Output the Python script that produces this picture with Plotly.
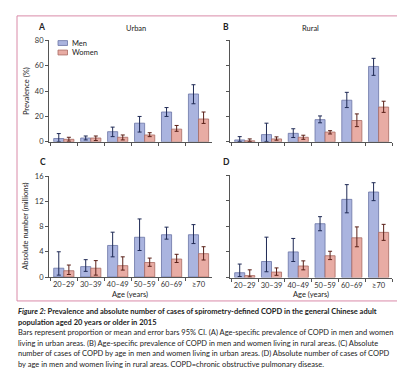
import plotly.graph_objects as go

W, H = 405, 378
FONT = "Lato"

age_groups = ["20–29", "30–39", "40–49", "50–59", "60–69", "≥70"]

# Panel A: urban prevalence (%)
urban_prev_men = [2.6, 3.0, 8.0, 14.7, 23.5, 37.7]
urban_prev_men_lo = [0.0, 1.5, 4.1, 7.7, 20.0, 30.0]
urban_prev_men_hi = [6.5, 4.6, 11.6, 20.0, 27.0, 45.0]
urban_prev_women = [2.0, 3.0, 3.6, 5.4, 10.0, 18.0]
urban_prev_women_lo = [0.5, 1.0, 1.5, 4.1, 8.3, 14.5]
urban_prev_women_hi = [3.6, 4.6, 5.4, 7.2, 12.9, 23.5]

# Panel B: rural prevalence (%)
rural_prev_men = [1.5, 5.7, 6.7, 17.5, 32.8, 59.4]
rural_prev_men_lo = [0.3, 0.3, 3.4, 15.0, 27.0, 52.4]
rural_prev_men_hi = [4.1, 14.7, 10.3, 20.4, 39.0, 65.8]
rural_prev_women = [0.8, 2.3, 3.6, 7.7, 16.8, 27.4]
rural_prev_women_lo = [0.3, 1.3, 2.0, 6.2, 12.0, 23.2]
rural_prev_women_hi = [2.3, 3.9, 5.2, 8.8, 22.0, 32.0]

# Panel C: urban absolute number (millions)
urban_abs_men = [1.4, 1.65, 5.0, 6.3, 6.7, 6.7]
urban_abs_men_lo = [0.3, 0.9, 3.2, 4.2, 6.0, 5.3]
urban_abs_men_hi = [4.0, 2.75, 7.1, 9.2, 7.9, 8.3]
urban_abs_women = [1.0, 1.4, 1.8, 2.3, 2.85, 3.7]
urban_abs_women_lo = [0.4, 0.3, 1.1, 1.7, 2.3, 2.7]
urban_abs_women_hi = [1.9, 2.6, 3.2, 3.0, 3.6, 4.8]

# Panel D: rural absolute number (millions)
rural_abs_men = [0.75, 2.5, 4.0, 8.4, 12.2, 13.35]
rural_abs_men_lo = [0.15, 0.9, 2.5, 7.3, 10.1, 12.0]
rural_abs_men_hi = [2.1, 6.3, 6.1, 9.5, 14.5, 14.8]
rural_abs_women = [0.3, 0.85, 1.8, 3.4, 6.2, 7.05]
rural_abs_women_lo = [0.1, 0.35, 1.2, 2.8, 4.8, 5.8]
rural_abs_women_hi = [1.2, 1.5, 2.6, 4.1, 7.9, 8.3]

prev_ticks = [0, 20, 40, 60, 80]
abs_ticks = [0, 4, 8, 12, 16]
legend_labels = ["Men", "Women"]

MEN_FILL, MEN_LINE, MEN_ERR = "#aab4df", "#6b75a6", "#1f2a55"
WOM_FILL, WOM_LINE, WOM_ERR = "#e8aca4", "#a86a62", "#5a2018"

caption_lines = [
    "<b><i>Figure 2:</i> Prevalence and absolute number of cases of spirometry-defined COPD in the general Chinese adult</b>",
    "<b>population aged 20 years or older in 2015</b>",
    "Bars represent proportion or mean and error bars 95% CI. (A) Age-specific prevalence of COPD in men and women",
    "living in urban areas. (B) Age-specific prevalence of COPD in men and women living in rural areas. (C) Absolute",
    "number of cases of COPD by age in men and women living in urban areas. (D) Absolute number of cases of COPD",
    "by age in men and women living in rural areas. COPD=chronic obstructive pulmonary disease.",
]


def px_x(p):
    return p / W


def px_y(p):
    return 1 - p / H


fig = go.Figure()

panels = [
    ("x", "y", urban_prev_men, urban_prev_men_lo, urban_prev_men_hi,
     urban_prev_women, urban_prev_women_lo, urban_prev_women_hi),
    ("x2", "y2", rural_prev_men, rural_prev_men_lo, rural_prev_men_hi,
     rural_prev_women, rural_prev_women_lo, rural_prev_women_hi),
    ("x3", "y3", urban_abs_men, urban_abs_men_lo, urban_abs_men_hi,
     urban_abs_women, urban_abs_women_lo, urban_abs_women_hi),
    ("x4", "y4", rural_abs_men, rural_abs_men_lo, rural_abs_men_hi,
     rural_abs_women, rural_abs_women_lo, rural_abs_women_hi),
]

for xa, ya, mv, ml, mh, wv, wl, wh in panels:
    fig.add_trace(go.Bar(
        x=age_groups, y=mv, name="Men", xaxis=xa, yaxis=ya, showlegend=False,
        marker=dict(color=MEN_FILL, line=dict(color=MEN_LINE, width=0.8)),
        error_y=dict(type="data", symmetric=False,
                     array=[h - v for h, v in zip(mh, mv)],
                     arrayminus=[v - l for v, l in zip(mv, ml)],
                     color=MEN_ERR, thickness=1, width=2),
    ))
    fig.add_trace(go.Bar(
        x=age_groups, y=wv, name="Women", xaxis=xa, yaxis=ya, showlegend=False,
        marker=dict(color=WOM_FILL, line=dict(color=WOM_LINE, width=0.8)),
        error_y=dict(type="data", symmetric=False,
                     array=[h - v for h, v in zip(wh, wv)],
                     arrayminus=[v - l for v, l in zip(wv, wl)],
                     color=WOM_ERR, thickness=1, width=2),
    ))

AX_COL = "#555555"
TICK_FONT = dict(family=FONT, size=7.5, color="#333333")


def xaxis(dom, anchor, labels):
    return dict(domain=[px_x(dom[0]), px_x(dom[1])], anchor=anchor,
                type="category", range=[-0.55, 5.5], tickangle=0,
                showline=True, linecolor=AX_COL, linewidth=1,
                ticks="outside", ticklen=3, tickcolor=AX_COL, tickwidth=1,
                tickson="boundaries", showgrid=False, zeroline=False,
                showticklabels=labels, tickfont=TICK_FONT, fixedrange=True)


def yaxis(dom, anchor, rng, tv, labels):
    return dict(domain=[px_y(dom[1]), px_y(dom[0])], anchor=anchor,
                range=rng, tickvals=tv, showline=True, linecolor=AX_COL,
                linewidth=1, ticks="outside", ticklen=3, tickcolor=AX_COL,
                tickwidth=1, showgrid=False, zeroline=False,
                showticklabels=labels, tickfont=TICK_FONT, fixedrange=True)


fig.update_layout(
    width=W, height=H, autosize=False,
    margin=dict(l=0, r=0, t=0, b=0),
    paper_bgcolor="white", plot_bgcolor="white",
    font=dict(family=FONT, size=7.5, color="#222222"),
    barmode="group", bargap=0.25, bargroupgap=0.0, showlegend=False,
    xaxis=xaxis((41, 204), "y", False),
    yaxis=yaxis((29, 133), "x", [0, 80], prev_ticks, True),
    xaxis2=xaxis((222, 384), "y2", False),
    yaxis2=yaxis((29, 133), "x2", [0, 80], prev_ticks, False),
    xaxis3=xaxis((41, 204), "y3", True),
    yaxis3=yaxis((168, 271.5), "x3", [0, 16], abs_ticks, True),
    xaxis4=xaxis((222, 384), "y4", True),
    yaxis4=yaxis((167, 272), "x4", [0, 16], abs_ticks, False),
)

ann = []


def text(x, y, t, size=7.5, bold=False, angle=0, xanchor="center", color="#222222"):
    ann.append(dict(x=px_x(x), y=px_y(y), xref="paper", yref="paper",
                    text=f"<b>{t}</b>" if bold else t, showarrow=False,
                    textangle=angle, xanchor=xanchor, yanchor="middle",
                    font=dict(family=FONT, size=size, color=color)))


text(33, 15, "A", 8.5, True)
text(218, 15, "B", 8.5, True)
text(35, 154, "C", 8.5, True)
text(218, 154, "D", 8.5, True)
text(128, 17, "Urban")
text(302, 17, "Rural")
text(18, 81, "Prevalence (%)", angle=-90)
text(18, 220, "Absolute number (millions)", angle=-90)
text(122, 289, "Age (years)")
text(303, 289, "Age (years)")

# legend (panel A)
for i, (lab, fill, edge) in enumerate(zip(legend_labels, [MEN_FILL, WOM_FILL], [MEN_LINE, WOM_LINE])):
    y0 = 29.3 + i * 9.7
    fig.add_shape(type="rect", xref="paper", yref="paper",
                  x0=px_x(50), x1=px_x(59.5), y0=px_y(y0 + 5), y1=px_y(y0),
                  fillcolor=fill, line=dict(color=edge, width=0.8))
    text(61.5, y0 + 2.5, lab, xanchor="left")

for i, line in enumerate(caption_lines):
    ann.append(dict(x=px_x(8), y=px_y(307 + i * 10.8), xref="paper", yref="paper",
                    text=line, showarrow=False, xanchor="left", yanchor="middle",
                    font=dict(family=FONT, size=7.5, color="#222222")))

fig.update_layout(annotations=ann)

fig.add_shape(type="rect", xref="paper", yref="paper",
              x0=px_x(9), x1=px_x(390), y0=px_y(296), y1=px_y(4),
              line=dict(color="#d98aa8", width=1), fillcolor="rgba(0,0,0,0)",
              layer="below")

fig.write_html("out.html")
